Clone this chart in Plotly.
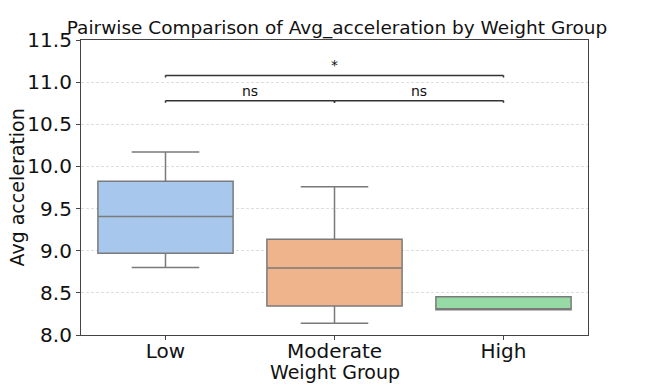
import plotly.graph_objects as go

categories = ["Low", "Moderate", "High"]
lower_whisker = [8.80, 8.14, 8.30]
q1_vals = [8.97, 8.345, 8.30]
median_vals = [9.405, 8.795, 8.30]
q3_vals = [9.825, 9.135, 8.455]
upper_whisker = [10.17, 9.76, 8.455]
colors = ["#a7c8ec", "#f0b48c", "#96dba6"]

# significance brackets: (from index, to index, level, label)
pairs_from = [0, 1, 0]
pairs_to = [1, 2, 2]
pair_levels = [10.78, 10.78, 11.08]
pair_labels = ["ns", "ns", "*"]

L, R, T, B = 81, 58, 40, 50
W, H = 646, 385

fig = go.Figure()
for i, c in enumerate(categories):
    fig.add_trace(go.Box(
        x=[c], q1=[q1_vals[i]], median=[median_vals[i]], q3=[q3_vals[i]],
        lowerfence=[lower_whisker[i]], upperfence=[upper_whisker[i]],
        fillcolor=colors[i], line=dict(color="#7a7a7a", width=1.5),
        whiskerwidth=0.5, width=0.8, boxpoints=False, showlegend=False,
        hoverinfo="skip",
    ))

shapes = []
annotations = []
for a, b, lvl, lab in zip(pairs_from, pairs_to, pair_levels, pair_labels):
    tick = 0.025
    shapes.append(dict(type="line", xref="x", yref="y", x0=a, x1=b, y0=lvl, y1=lvl,
                       line=dict(color="#333333", width=1.5)))
    shapes.append(dict(type="line", xref="x", yref="y", x0=a, x1=a, y0=lvl - tick, y1=lvl,
                       line=dict(color="#333333", width=1.5)))
    shapes.append(dict(type="line", xref="x", yref="y", x0=b, x1=b, y0=lvl - tick, y1=lvl,
                       line=dict(color="#333333", width=1.5)))
    annotations.append(dict(x=(a + b) / 2, y=lvl, xref="x", yref="y", text=lab,
                            showarrow=False, yanchor="bottom", yshift=0,
                            font=dict(size=14, color="#111111", family="DejaVu Sans")))

# axis titles as annotations for exact placement
annotations.append(dict(text="Weight Group", xref="paper", yref="paper",
                        x=0.5, y=-(372 - (H - B)) / (H - T - B), yanchor="middle",
                        showarrow=False, font=dict(size=19, color="#111111")))
annotations.append(dict(text="Avg acceleration", xref="paper", yref="paper",
                        x=-(L - 16) / (W - L - R), xanchor="center",
                        y=0.5, yanchor="middle", textangle=-90,
                        showarrow=False, font=dict(size=19, color="#111111")))

fig.update_layout(
    width=W, height=H,
    margin=dict(l=L, r=R, t=T, b=B, autoexpand=False),
    paper_bgcolor="white", plot_bgcolor="white",
    boxmode="overlay",
    font=dict(family="DejaVu Sans", color="#111111"),
    title=dict(text="Pairwise Comparison of Avg_acceleration by Weight Group",
               x=337 / W, xanchor="center", y=1 - 28 / H, yanchor="middle",
               font=dict(size=18.5, family="DejaVu Sans", color="#111111")),
    shapes=shapes, annotations=annotations,
)
fig.update_xaxes(
    type="category", categoryorder="array", categoryarray=categories,
    range=[-0.5, 2.5], showline=True, linecolor="#444444", linewidth=1.2, mirror=True,
    ticks="outside", ticklen=4, tickcolor="#444444", showgrid=False, zeroline=False,
    tickfont=dict(size=20), automargin=False, ticklabelstandoff=-6,
)
fig.update_yaxes(
    range=[8.0, 11.5], dtick=0.5, tickformat=".1f",
    showline=True, linecolor="#444444", linewidth=1.2, mirror=True,
    ticks="outside", ticklen=4, tickcolor="#444444",
    showgrid=True, gridcolor="#dedede", griddash="3px,2px", gridwidth=0.8, zeroline=False,
    tickfont=dict(size=20), automargin=False,
)
fig.write_html("out.html", config={"displayModeBar": False},
               post_script="document.body.style.margin='0';document.body.style.padding='0';")
